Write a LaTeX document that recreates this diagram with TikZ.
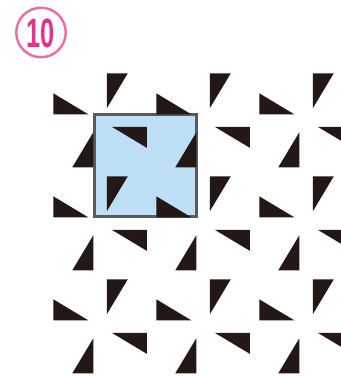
\documentclass[tikz,border=0pt]{standalone}
\usepackage{fontspec}
\newfontfamily\numfont{Liberation Sans}
\definecolor{trink}{HTML}{231815}
\definecolor{sqfill}{HTML}{BDDFF5}
\definecolor{sqline}{HTML}{5A5A5C}
\definecolor{pinkc}{HTML}{EE6AA7}
\definecolor{pinkd}{HTML}{E6318C}
\tikzset{
  tri/.style={fill=trink},
  sqbox/.style={fill=sqfill,draw=sqline,line width=2.4pt},
  ring/.style={draw=pinkc,line width=2.4pt},
}
\begin{document}
\begin{tikzpicture}[x=1pt,y=-1pt]
\useasboundingbox (0,0) rectangle (341,376);
\fill[white] (0,0) rectangle (341,376);
% circled number
\node[ring,circle,minimum size=49.5pt,inner sep=0pt] (badge) at (41,32.5) {};
\node[text=pinkd,inner sep=0pt] (num) at (41,33)
  {\scalebox{0.62}[1]{\fontsize{41}{41}\selectfont\numfont\bfseries 10}};
% highlighted square
\node[sqbox,minimum size=102pt,inner sep=0pt] (sq) at (145.5,165.5) {};
% triangle pattern
\begin{scope}
\clip (0,0) rectangle (341,376);
\foreach \i in {0,1,2}{
  \foreach \j in {0,1,2}{
    \begin{scope}[shift={({53.3+103*\i},{73.3+103*\j})}]
      \fill[tri] (53.5,0) -- (74.5,0) -- (53.5,35) -- cycle;
      \fill[tri] (0,41) -- (0,20) -- (35,41) -- cycle;
      \fill[tri] (93.5,53.5) -- (58.5,53.5) -- (93.5,74.5) -- cycle;
      \fill[tri] (40,94) -- (40,59) -- (19,94) -- cycle;
    \end{scope}
  }
}
\end{scope}
\end{tikzpicture}
\end{document}
